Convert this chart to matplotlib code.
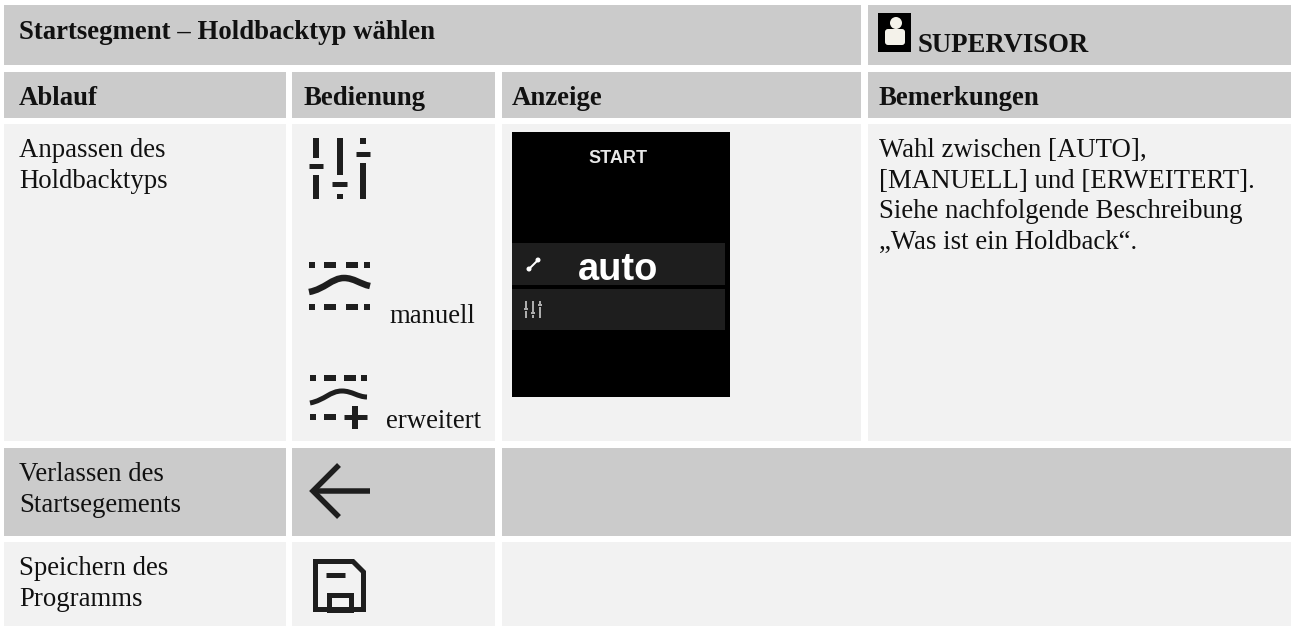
import matplotlib
matplotlib.use('Agg')
import matplotlib.pyplot as plt
from matplotlib.patches import Rectangle, Circle, FancyBboxPatch, PathPatch
from matplotlib.path import Path

title = 'Startsegment – Holdbacktyp wählen'
role = 'SUPERVISOR'
headers = ['Ablauf', 'Bedienung', 'Anzeige', 'Bemerkungen']
steps = [['Anpassen des', 'Holdbacktyps'], ['Verlassen des', 'Startsegements'], ['Speichern des', 'Programms']]
remarks = ['Wahl zwischen [AUTO],', '[MANUELL] und [ERWEITERT].', 'Siehe nachfolgende Beschreibung', '„Was ist ein Holdback“.']
icon_labels = ['manuell', 'erweitert']
screen_title = 'START'
screen_value = 'auto'

DARK = '#cbcbcb'
LIGHT = '#f2f2f2'
INK = '#1e1e1e'
SERIF = 'Liberation Serif'
SANS = 'Liberation Sans'
BODY = 19.3

fig = plt.figure(figsize=(12.91, 6.26), dpi=100)
ax = fig.add_axes([0, 0, 1, 1])
ax.set_xlim(0, 1291)
ax.set_ylim(626, 0)
ax.axis('off')


def cell(x0, x1, y0, y1, color):
    ax.add_patch(Rectangle((x0, y0), x1 - x0, y1 - y0, fc=color, ec='none'))


def line(xs, ys, w=6, color=INK, cap='butt'):
    # w is in pixels
    ax.plot(xs, ys, color=color, lw=w * 0.72, solid_capstyle=cap, solid_joinstyle='miter')


def txt(x, y, s, bold=False, size=BODY, **kw):
    ax.text(x, y, s, family=SERIF, fontsize=size, color='#111111', va='baseline',
            fontweight='bold' if bold else 'normal', **kw)


def curve(p, w):
    codes = [Path.MOVETO] + [Path.CURVE4] * (len(p) - 1)
    ax.add_patch(PathPatch(Path(p, codes), fc='none', ec=INK, lw=w * 0.72, capstyle='butt'))


def dashes(segs, y, w=6):
    for a, b in segs:
        line([a, b], [y, y], w)


# grid
cell(4, 861, 5, 65, DARK)
cell(868, 1291, 5, 65, DARK)
cell(4, 286, 72, 118, DARK)
cell(292, 495, 72, 118, DARK)
cell(502, 861, 72, 118, DARK)
cell(868, 1291, 72, 118, DARK)
cell(4, 286, 124, 441, LIGHT)
cell(292, 495, 124, 441, LIGHT)
cell(502, 861, 124, 441, LIGHT)
cell(868, 1291, 124, 441, LIGHT)
cell(4, 286, 448, 536, DARK)
cell(292, 495, 448, 536, DARK)
cell(502, 1291, 448, 536, DARK)
cell(4, 286, 542, 626, LIGHT)
cell(292, 495, 542, 626, LIGHT)
cell(502, 1291, 542, 626, LIGHT)

# text
txt(19, 39, title, bold=True)
txt(918, 52, role, bold=True)
for x, h in zip([19, 304, 512, 878.5], headers):
    txt(x, 105, h, bold=True)
for y, s in zip([157, 188], steps[0]):
    txt(19, y, s)
for y, s in zip([481, 512], steps[1]):
    txt(19, y, s)
for y, s in zip([575, 606], steps[2]):
    txt(19, y, s)
for y, s in zip([157, 188, 218, 249], remarks):
    txt(879, y, s)
txt(389, 323, icon_labels[0])
txt(386, 428, icon_labels[1])

# person icon
cell(878, 911, 13, 52, 'black')
ax.add_patch(Circle((896, 23), 6, fc='#f4f2ea', ec='none'))
ax.add_patch(FancyBboxPatch((887, 31), 16, 12, boxstyle='round,pad=2,rounding_size=3', fc='#f4f2ea', ec='none'))

# slider icon
line([316, 316], [138, 158], 6)
line([309, 323], [166, 166], 5)
line([316, 316], [175, 199], 6)
line([339.5, 339.5], [138, 175], 6)
line([332, 347], [184, 184], 5)
line([339.5, 339.5], [194, 199], 6)
line([363, 363], [138, 144], 6)
line([356, 370], [154, 154], 5)
line([363, 363], [163, 199], 6)

# manuell icon
segs = [(309, 315), (324, 336), (346, 358), (364, 370)]
dashes(segs, 265)
dashes(segs, 307)
curve([(309, 292), (325, 289), (332, 278), (344, 278), (354, 278), (360, 284), (370, 286)], 6.5)

# erweitert icon
dashes([(310, 316), (324, 336), (344, 356), (361, 367)], 378)
curve([(310, 403), (325, 400), (330, 391), (342, 391), (352, 391), (358, 397), (367, 397)], 5)
dashes([(310, 316), (324, 336)], 417)
line([344, 367], [417, 417], 5)
line([355, 355], [406, 429], 6)

# device screen
cell(512, 730, 132, 397, 'black')
cell(512, 725, 243, 285, '#1e1e1e')
cell(512, 725, 289, 330, '#1e1e1e')
ax.text(618, 163, screen_title, family=SANS, fontsize=13, fontweight='bold', color='#e8e8e8', ha='center', va='baseline')
ax.text(618.5, 280, screen_value, family=SANS, fontsize=27.4, fontweight='bold', color='white', ha='center', va='baseline')
line([529, 538], [269, 260], 2, 'white')
ax.add_patch(Circle((529, 269), 2.5, fc='white', ec='none'))
ax.add_patch(Circle((538, 260), 2.5, fc='white', ec='none'))
for x, gaps in zip([526, 533, 540], [(308, 311), (312, 315), (304, 307)]):
    line([x, x], [301, gaps[0]], 1.5, '#dddddd')
    line([x, x], [gaps[1], 318], 1.5, '#dddddd')
    line([x - 2, x + 2], [gaps[0] + 1, gaps[0] + 1], 1.5, '#dddddd')

# back arrow
line([312, 370], [491, 491], 5.5)
line([339, 313, 339], [465, 491, 517], 5.5)

# save icon
ax.add_patch(plt.Polygon([(315.5, 561.5), (353, 561.5), (363.5, 572), (363.5, 609.5), (315.5, 609.5)], closed=True,
                         fc='none', ec=INK, lw=5 * 0.72, joinstyle='miter'))
line([326, 345], [575, 575], 5)
ax.add_patch(Rectangle((328.5, 594.5), 22, 15, fc='none', ec=INK, lw=5 * 0.72))

fig.savefig('out.png', dpi=100)
